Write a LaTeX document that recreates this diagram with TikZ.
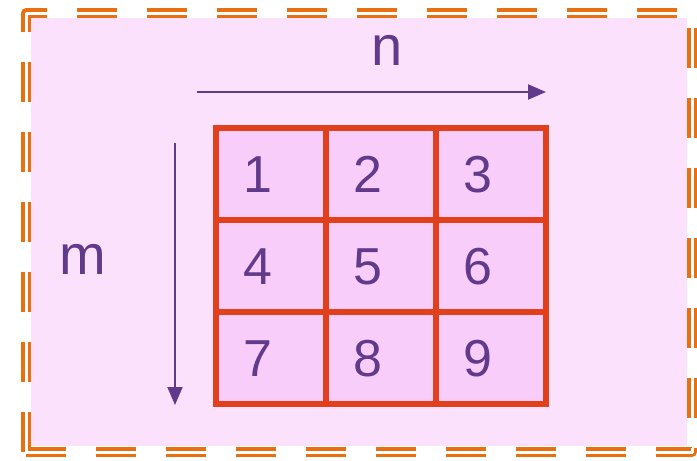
\documentclass[tikz,border=0pt]{standalone}
\usepackage{fontspec}
\setmainfont{Liberation Sans}
\usetikzlibrary{arrows.meta,positioning}
\definecolor{gridred}{RGB}{226,64,28}
\definecolor{cellpink}{RGB}{249,205,249}
\definecolor{bgpink}{RGB}{252,225,252}
\definecolor{mpurple}{RGB}{98,58,140}
\definecolor{frameorange}{RGB}{232,112,16}
\tikzset{
  cell/.style={rectangle,draw=gridred,fill=cellpink,line width=6pt,
    outer sep=0pt,inner sep=0pt,minimum width=110pt,minimum height=92pt,
    text width=55pt,align=left,text height=37pt,text depth=0pt,
    font=\fontsize{52}{52}\selectfont,text=mpurple},
  dimlbl/.style={font=\fontsize{56}{56}\selectfont,text=mpurple,inner sep=0pt},
  arr/.style={-{Triangle[length=18pt,width=15pt]},line width=2pt,draw=mpurple},
}

\begin{document}
\begin{tikzpicture}[
  x=1pt,y=-1pt,
  frame/.style={draw=frameorange,line width=3.5pt,double=white,
    double distance=3pt,dash pattern=on 40pt off 30pt,line join=round},
]
  \useasboundingbox (0,0) rectangle (697,461);

  % background and double dashed frame
  \fill[bgpink] (31,18) rectangle (687,446);
  \draw[frame] (26,452) -- (26,13) -- (692,13) -- (692,452) -- cycle;

  % the 3x3 grid
  \node[cell] (c1) at (271,174) {1};
  \node[cell,right=0pt of c1] (c2) {2};
  \node[cell,right=0pt of c2] (c3) {3};
  \node[cell,below=0pt of c1] (c4) {4};
  \node[cell,right=0pt of c4] (c5) {5};
  \node[cell,right=0pt of c5] (c6) {6};
  \node[cell,below=0pt of c4] (c7) {7};
  \node[cell,right=0pt of c7] (c8) {8};
  \node[cell,right=0pt of c8] (c9) {9};

  % dimensions
  \node[dimlbl] (nlbl) at (387,50) {n};
  \node[dimlbl] (mlbl) at (83,259) {m};
  \coordinate (nfrom) at (197,92);
  \coordinate (nto) at (546,92);
  \coordinate (mfrom) at (175,143);
  \coordinate (mto) at (175,405);
  \draw[arr] (nfrom) -- (nto);
  \draw[arr] (mfrom) -- (mto);
\end{tikzpicture}
\end{document}
